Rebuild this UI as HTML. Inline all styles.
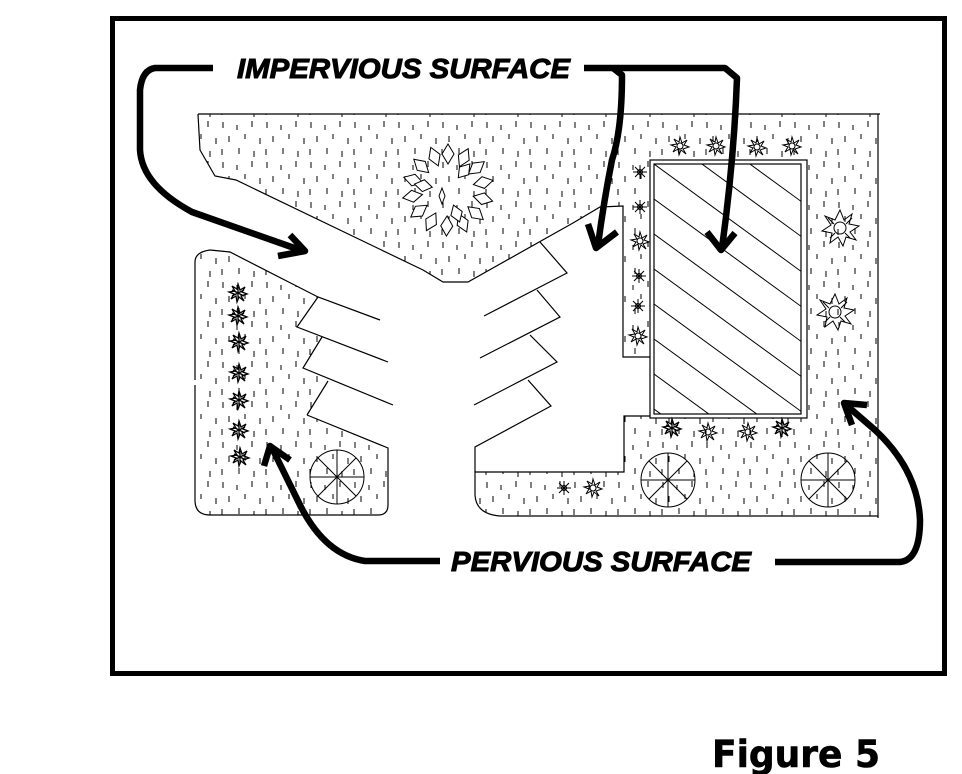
<!DOCTYPE html>
<html><head><meta charset="utf-8"><style>
html,body{margin:0;padding:0;background:#fff;}
svg{display:block;}
</style></head><body>
<svg width="962" height="774" viewBox="0 0 962 774" xmlns="http://www.w3.org/2000/svg">
<defs>
<pattern id="dash" width="44" height="40" patternUnits="userSpaceOnUse">
<g stroke="#000" stroke-width="1">
<line x1="3" y1="2" x2="3" y2="8"/><line x1="17" y1="5" x2="17" y2="10"/><line x1="32" y1="1" x2="32" y2="7"/>
<line x1="9" y1="16" x2="9" y2="22"/><line x1="25" y1="14" x2="25" y2="19"/><line x1="40" y1="18" x2="40" y2="24"/>
<line x1="2" y1="29" x2="2" y2="35"/><line x1="19" y1="28" x2="19" y2="34"/><line x1="34" y1="31" x2="34" y2="37"/>
</g></pattern>
<clipPath id="houseclip"><rect x="654" y="164" width="147" height="250"/></clipPath>
<g id="shrub" fill="none" stroke="#000" stroke-width="1">
<path d="M0,-9 L2,-3 L7,-6 L4,-1 L9,1 L3,3 L6,8 L1,4 L-1,9 L-2,3 L-7,6 L-4,1 L-9,-1 L-3,-2 L-6,-7 L-1,-4 Z"/>
<circle r="3"/>
</g>
<g id="shrubd" fill="none" stroke="#000" stroke-width="1.3">
<path d="M0,-9 L2,-3 L7,-6 L4,-1 L9,1 L3,3 L6,8 L1,4 L-1,9 L-2,3 L-7,6 L-4,1 L-9,-1 L-3,-2 L-6,-7 L-1,-4 Z"/>
<path d="M-6,-3 L6,3 M-6,3 L6,-3 M0,-6 V6"/>
</g>
<g id="star" fill="none" stroke="#000" stroke-width="1">
<path d="M0,-7 V7 M-7,0 H7 M-5,-5 L5,5 M-5,5 L5,-5"/><circle r="2.5"/>
</g>
<g id="bigshrub" fill="none" stroke="#000" stroke-width="1">
<path d="M0,-18 L4,-8 L12,-14 L9,-4 L19,-2 L10,4 L16,12 L6,9 L3,18 L-2,9 L-10,15 L-8,5 L-18,3 L-9,-3 L-15,-12 L-5,-8 Z"/>
<path d="M-12,-10 L-6,-4 M12,-10 L6,-4 M-10,10 L-5,5 M10,10 L5,5"/>
<circle r="6"/>
</g>
<g id="tree" fill="none" stroke="#000" stroke-width="1">
<circle r="27"/><path d="M0,-27 V27 M-27,0 H27 M-19,-19 L19,19 M-19,19 L19,-19"/>
</g>
</defs>

<rect x="112.5" y="18.5" width="832" height="655" fill="none" stroke="#000" stroke-width="5"/>

<path d="M198,114 H878 V516 H500 Q476,514 475,495 V472 H624 V416 H650 V357 H623 V206 L600,207 L573,223 L468,282 L443,282 L423,270 L236,180 L215,176 L200,150 Z" fill="url(#dash)" stroke="none"/>
<path d="M210,250 L230,252 L318,297 L297,327 L322,337 L303,368 L328,381 L307,415 L388,448 V505 Q387,515 378,515 H210 Q195,515 195,500 V262 Q195,252 210,250 Z" fill="url(#dash)" stroke="none"/>

<g fill="none" stroke="#000" stroke-width="1.2">
<path d="M198,114 H880"/>
<path d="M878,114 V518"/>
<path d="M198,114 L200,150 L215,176 L236,180 L423,270 L443,282 L468,282 L573,223 L600,207 L623,206 V357 H650"/>
<path d="M650,416 H624 V472 H475 V495 Q476,514 500,516 H878"/>
<path d="M210,250 L230,252 L318,297 L380,320"/>
<path d="M195,380 V262 Q195,252 210,250 M195,385 V500 Q195,515 210,515 H378 Q388,515 388,505 V448 L307,415"/>
<path d="M318,297 L297,327 L388,362 M322,337 L303,368 L393,405 M328,381 L307,415"/>
<path d="M540,242 L567,273 L484,316 M537,290 L560,317 L480,358 M530,335 L557,362 L474,405 M528,380 L551,406 L475,447 V472"/>
</g>

<rect x="650" y="160" width="157" height="258" fill="#fff" stroke="#000" stroke-width="1.2"/>
<rect x="654" y="164" width="147" height="250" fill="#fff" stroke="#000" stroke-width="1.2"/>
<g clip-path="url(#houseclip)" stroke="#000" stroke-width="1">
<line x1="654" y1="94" x2="854" y2="240"/>
<line x1="654" y1="129" x2="854" y2="275"/>
<line x1="654" y1="164" x2="854" y2="310"/>
<line x1="654" y1="199" x2="854" y2="345"/>
<line x1="654" y1="234" x2="854" y2="380"/>
<line x1="654" y1="269" x2="854" y2="415"/>
<line x1="654" y1="304" x2="854" y2="450"/>
<line x1="654" y1="339" x2="854" y2="485"/>
<line x1="654" y1="374" x2="854" y2="520"/>
<line x1="654" y1="409" x2="854" y2="555"/>
</g>

<g fill="#fff" stroke="#000" stroke-width="1" transform="translate(448,190)">
<path d="M0,-46 L6,-36 L0,-26 L-6,-36 Z" transform="rotate(0)"/>
<path d="M0,-46 L6,-36 L0,-26 L-6,-36 Z" transform="rotate(26)"/>
<path d="M0,-46 L6,-36 L0,-26 L-6,-36 Z" transform="rotate(52)"/>
<path d="M0,-46 L6,-36 L0,-26 L-6,-36 Z" transform="rotate(78)"/>
<path d="M0,-46 L6,-36 L0,-26 L-6,-36 Z" transform="rotate(104)"/>
<path d="M0,-46 L6,-36 L0,-26 L-6,-36 Z" transform="rotate(130)"/>
<path d="M0,-46 L6,-36 L0,-26 L-6,-36 Z" transform="rotate(156)"/>
<path d="M0,-46 L6,-36 L0,-26 L-6,-36 Z" transform="rotate(182)"/>
<path d="M0,-46 L6,-36 L0,-26 L-6,-36 Z" transform="rotate(208)"/>
<path d="M0,-46 L6,-36 L0,-26 L-6,-36 Z" transform="rotate(234)"/>
<path d="M0,-46 L6,-36 L0,-26 L-6,-36 Z" transform="rotate(260)"/>
<path d="M0,-46 L6,-36 L0,-26 L-6,-36 Z" transform="rotate(286)"/>
<path d="M0,-46 L6,-36 L0,-26 L-6,-36 Z" transform="rotate(312)"/>
<path d="M0,-46 L6,-36 L0,-26 L-6,-36 Z" transform="rotate(338)"/>
<path d="M0,-34 L6,-25 L0,-16 L-6,-25 Z" transform="rotate(40)"/>
<path d="M0,-34 L6,-25 L0,-16 L-6,-25 Z" transform="rotate(160)"/>
<path d="M0,-34 L6,-25 L0,-16 L-6,-25 Z" transform="rotate(280)"/>
<path d="M-6,-2 L-3,6 L-6,14 L-9,6 Z"/>
</g>

<use href="#shrubd" x="238" y="293"/><use href="#shrubd" x="238" y="316"/><use href="#shrubd" x="239" y="342"/>
<use href="#shrubd" x="239" y="373"/><use href="#shrubd" x="239" y="400"/><use href="#shrubd" x="239" y="430"/><use href="#shrubd" x="240" y="457"/>
<use href="#shrub" x="680" y="146"/><use href="#shrub" x="716" y="146"/><use href="#shrub" x="757" y="147"/><use href="#shrub" x="792" y="146"/>
<use href="#star" x="640" y="172"/><use href="#star" x="640" y="207"/><use href="#shrub" x="640" y="241"/>
<use href="#star" x="639" y="276"/><use href="#star" x="638" y="306"/><use href="#shrub" x="638" y="336"/>
<use href="#shrubd" x="672" y="428"/><use href="#shrub" x="708" y="432"/><use href="#shrub" x="748" y="432"/><use href="#shrubd" x="782" y="428"/>
<use href="#star" x="564" y="488"/><use href="#shrub" x="593" y="488"/>
<use href="#bigshrub" x="840" y="228"/><use href="#bigshrub" x="835" y="312"/>
<use href="#tree" x="337" y="477"/><use href="#tree" x="668" y="480"/><use href="#tree" x="828" y="480"/>

<g fill="none" stroke="#000" stroke-width="6.5" stroke-linejoin="round">
<path d="M213,68 H155 Q142,70 140,90 L140,150 Q142,185 192,212 L300,250"/>
<path d="M278,256 L305,251 L290,235"/>
<path d="M584,68 H725 L737,78 Q734,160 722,248"/>
<path d="M707,232 L721,250 L735,233"/>
<path d="M613,68 L622,75 Q622,130 612,160 Q604,200 598,245"/>
<path d="M588,224 L596,248 L617,232"/>
<path d="M440,561 H365 Q325,555 300,505 L272,448"/>
<path d="M264,466 L270,446 L290,460"/>
<path d="M775,562 H900 Q920,560 920,520 Q918,470 875,430 L845,404"/>
<path d="M852,425 L844,403 L867,405"/>
</g>

<text x="237" y="78" font-family="Liberation Sans, sans-serif" font-weight="bold" font-style="italic" font-size="28" stroke="#000" stroke-width="1" textLength="333" lengthAdjust="spacingAndGlyphs">IMPERVIOUS SURFACE</text>
<text x="451" y="571" font-family="Liberation Sans, sans-serif" font-weight="bold" font-style="italic" font-size="28" stroke="#000" stroke-width="1" textLength="300" lengthAdjust="spacingAndGlyphs">PERVIOUS SURFACE</text>
<text x="712" y="767" font-family="DejaVu Sans, sans-serif" font-weight="bold" font-size="37" stroke="#000" stroke-width="0.6" textLength="168" lengthAdjust="spacingAndGlyphs">Figure 5</text>
</svg>
</body></html>
